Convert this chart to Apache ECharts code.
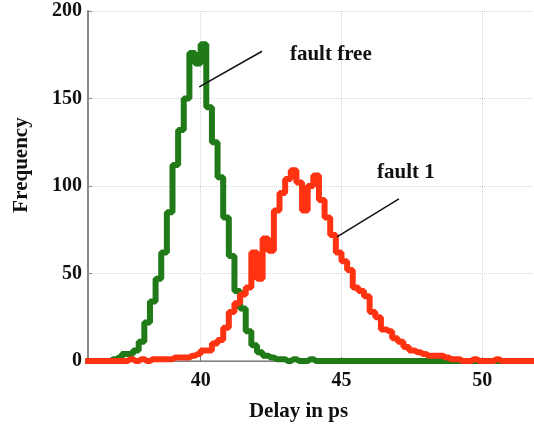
<!DOCTYPE html>
<html>
<head>
<meta charset="utf-8">
<script src="https://cdn.jsdelivr.net/npm/echarts@6/dist/echarts.min.js"></script>
<style>
  html, body { margin: 0; padding: 0; background: #fff; }
  #chart { width: 534px; height: 427px; }
</style>
</head>
<body>
<div id="chart"></div>
<script>
// bin centres (ps)
const delays = [
  35.9, 36.1, 36.3, 36.5, 36.7, 36.9, 37.1, 37.3, 37.5, 37.7,
  37.9, 38.1, 38.3, 38.5, 38.7, 38.9, 39.1, 39.3, 39.5, 39.7,
  39.9, 40.1, 40.3, 40.5, 40.7, 40.9, 41.1, 41.3, 41.5, 41.7,
  41.9, 42.1, 42.3, 42.5, 42.7, 42.9, 43.1, 43.3, 43.5, 43.7,
  43.9, 44.1, 44.3, 44.5, 44.7, 44.9, 45.1, 45.3, 45.5, 45.7,
  45.9, 46.1, 46.3, 46.5, 46.7, 46.9, 47.1, 47.3, 47.5, 47.7,
  47.9, 48.1, 48.3, 48.5, 48.7, 48.9, 49.1, 49.3, 49.5, 49.7,
  49.9, 50.1, 50.3, 50.5, 50.7, 50.9, 51.1, 51.3, 51.5, 51.7,
  51.9
];

// fault free counts
const faultFree = [
  0, 0, 0, 0, 0, 1, 2, 4, 4, 6,
  11, 22, 34, 47, 62, 85, 112, 132, 150, 176,
  170, 181, 145, 125, 105, 82, 60, 40, 30, 17,
  9, 5, 3, 2, 1, 1, 0, 1, 0, 0,
  1, 0, 0, 0, 0, 0, 0, 0, 0, 0,
  0, 0, 0, 0, 0, 0, 0, 0, 0, 0,
  0, 0, 0, 0, 0, 0, 0, 0, 0, 0,
  0, 0, 0, 0, 0, 0, 0, 0, 0, 0,
  0
];

// fault 1 counts
const fault1 = [
  0, 0, 0, 0, 0, 0, 0, 0, 1, 0,
  1, 0, 1, 1, 1, 1, 2, 2, 2, 3,
  4, 6, 6, 10, 12, 19, 28, 33, 38, 42,
  62, 47, 70, 63, 86, 96, 104, 109, 102, 86,
  100, 106, 92, 82, 72, 62, 57, 52, 42, 40,
  37, 28, 25, 18, 17, 13, 11, 8, 6, 5,
  4, 3, 3, 3, 2, 1, 1, 0, 0, 1,
  0, 0, 0, 1, 0, 0, 0, 0, 0, 0,
  0
];

const xTicks = [40, 45, 50];

const font = 'Liberation Serif';
const chart = echarts.init(document.getElementById('chart'));

function annotation(text, textAt, from, to) {
  return {
    markLine: {
      silent: true,
      symbol: ['none', 'none'],
      lineStyle: { color: '#111', width: 1.5, type: 'solid' },
      label: { show: false },
      data: [[{ coord: from }, { coord: to }]]
    },
    markPoint: {
      silent: true,
      symbol: 'circle',
      symbolSize: 0,
      data: [{
        coord: textAt,
        label: {
          show: true,
          position: 'right',
          distance: 0,
          formatter: text,
          fontFamily: font,
          fontWeight: 'bold',
          fontSize: 21,
          color: '#111'
        }
      }]
    }
  };
}

const option = {
  animation: false,
  backgroundColor: '#fff',
  grid: { left: 88, right: 1, top: 11, bottom: 65 },
  xAxis: [
    {
      type: 'value',
      min: 36,
      max: 51.8,
      name: 'Delay in ps',
      nameLocation: 'middle',
      nameGap: 40,
      nameTextStyle: {
        fontFamily: font, fontWeight: 'bold', fontSize: 21, color: '#111',
        padding: [0, 24, 0, 0]
      },
      axisLine: { show: true, onZero: false, lineStyle: { color: '#333', width: 1 } },
      axisTick: { show: true, inside: true, length: 4, customValues: xTicks, lineStyle: { color: '#777' } },
      axisLabel: {
        customValues: xTicks, margin: 10,
        fontFamily: font, fontWeight: 'bold', fontSize: 20, color: '#111'
      },
      splitLine: { show: true, lineStyle: { color: '#d4d4d4', type: 'dotted', width: 1 } }
    },
    {
      type: 'value',
      position: 'top',
      min: 36,
      max: 51.8,
      axisLine: { show: true, lineStyle: { color: '#999', width: 1.5 } },
      axisTick: { show: false },
      axisLabel: { show: false },
      splitLine: { show: false }
    }
  ],
  yAxis: {
    type: 'value',
    min: 0,
    max: 200,
    interval: 50,
    name: 'Frequency',
    nameLocation: 'middle',
    nameGap: 56,
    nameTextStyle: {
      fontFamily: font, fontWeight: 'bold', fontSize: 21, color: '#111',
      padding: [0, 0, 0, 42]
    },
    axisLine: { show: true, lineStyle: { color: '#888', width: 2 } },
    axisTick: { show: true, inside: true, length: 4, lineStyle: { color: '#888' } },
    axisLabel: { margin: 6, fontFamily: font, fontWeight: 'bold', fontSize: 20, color: '#111' },
    splitLine: { show: true, lineStyle: { color: '#d4d4d4', type: 'dotted', width: 1 } }
  },
  series: [
    Object.assign({
      name: 'fault free',
      type: 'line',
      step: 'middle',
      showSymbol: false,
      data: delays.map((d, i) => [d, faultFree[i]]),
      lineStyle: { color: '#1f7a17', width: 6 },
      itemStyle: { color: '#1f7a17' },
      z: 2
    }, annotation('fault free', [43.17, 175], [42.18, 177], [39.95, 156.6])),
    Object.assign({
      name: 'fault 1',
      type: 'line',
      step: 'middle',
      showSymbol: false,
      data: delays.map((d, i) => [d, fault1[i]]),
      lineStyle: { color: '#ff3312', width: 6 },
      itemStyle: { color: '#ff3312' },
      z: 3
    }, annotation('fault 1', [46.26, 107.4], [47.04, 92.6], [44.84, 70.9]))
  ]
};

chart.setOption(option);
</script>
</body>
</html>
